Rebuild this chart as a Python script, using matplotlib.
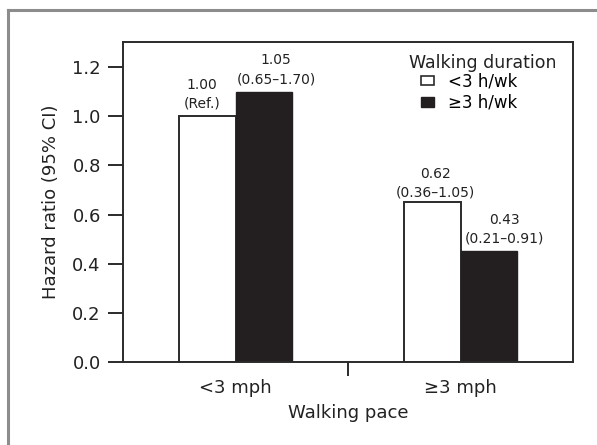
import numpy as np
import matplotlib

matplotlib.use('Agg')

import matplotlib.pyplot as plt
from matplotlib.patches import Patch
from matplotlib.lines import Line2D

plt.rcParams['font.family'] = ['DejaVu Sans']

# data
paces = ['<3 mph', '\u22653 mph']
durations = ['<3 h/wk', '\u22653 h/wk']
short_hr = [1.00, 0.65]      # <3 h/wk (drawn heights)
long_hr = [1.10, 0.45]       # >=3 h/wk (drawn heights)
short_labels = ['1.00\n(Ref.)', '0.62\n(0.36\u20131.05)']
long_labels = ['1.05\n(0.65\u20131.70)', '0.43\n(0.21\u20130.91)']

dark = '#2b2b2b'
fill_black = '#231f20'
txt_col = '#222222'

fig = plt.figure(figsize=(5.97, 4.45), dpi=100)
ax = fig.add_axes([0.206, 0.1865, 0.754, 0.719])

x = np.arange(len(paces))
width = 0.25
b1 = ax.bar(x - width / 2, short_hr, width, color='white', edgecolor=dark, linewidth=1.4, label=durations[0])
b2 = ax.bar(x + width / 2, long_hr, width, color=fill_black, edgecolor=fill_black, linewidth=1.0, label=durations[1])

# nudges of the value labels (points)
short_dx = [-4, 2]
short_dy = [4, 2]
long_dx = [9, 11]
long_dy = [4, 4]
for rects, labels, dxs, dys in ((b1, short_labels, short_dx, short_dy), (b2, long_labels, long_dx, long_dy)):
    for rect, txt, dx, dy in zip(rects, labels, dxs, dys):
        ax.annotate(txt, (rect.get_x() + rect.get_width() / 2, rect.get_height()),
                    xytext=(dx, dy), textcoords='offset points', ha='center', va='bottom',
                    fontsize=10, linespacing=1.45, color=txt_col)

ax.set_xlim(-0.5, 1.5)
ax.set_ylim(0, 1.302)
ax.set_yticks(np.arange(0, 1.21, 0.2))
ax.set_yticklabels(['%.1f' % v for v in np.arange(0, 1.21, 0.2)])
ax.set_xticks(x)
ax.set_xticklabels(paces)
ax.set_xticks([0.5], minor=True)
ax.tick_params(axis='x', which='major', length=0, pad=12, labelsize=13, colors=txt_col)
ax.tick_params(axis='x', which='minor', length=10, width=1.4, color=dark, direction='out')
ax.tick_params(axis='y', length=11, width=1.4, color=dark, pad=5, labelsize=13, labelcolor=txt_col)

for sp in ax.spines.values():
    sp.set_color(dark)
    sp.set_linewidth(1.4)

ax.set_ylabel('Hazard ratio (95% CI)', fontsize=13, color=txt_col, labelpad=9)
ax.set_xlabel('Walking pace', fontsize=13, color=txt_col, labelpad=5)

# legend: title as text, entries indented below it
ax.text(0.636, 0.934, 'Walking duration', transform=ax.transAxes, fontsize=12.5,
        color=txt_col, ha='left', va='center')
handles = [Patch(facecolor='white', edgecolor=dark, linewidth=1.2, label=durations[0]),
           Patch(facecolor=fill_black, edgecolor=fill_black, label=durations[1])]
ax.legend(handles=handles, loc='upper left', bbox_to_anchor=(0.662, 0.905),
          frameon=False, fontsize=12, handlelength=0.8, handleheight=0.5,
          handletextpad=0.8, labelspacing=0.2, borderaxespad=0, borderpad=0)

# grey outer frame (left and top only)
fig.add_artist(Line2D([8 / 597, 8 / 597], [0, 1 - 10 / 445], color='#8c8c8c', linewidth=2.2, transform=fig.transFigure))
fig.add_artist(Line2D([8 / 597, 1], [1 - 10 / 445, 1 - 10 / 445], color='#8c8c8c', linewidth=2.2, transform=fig.transFigure))

plt.savefig('out.png', dpi=100)
